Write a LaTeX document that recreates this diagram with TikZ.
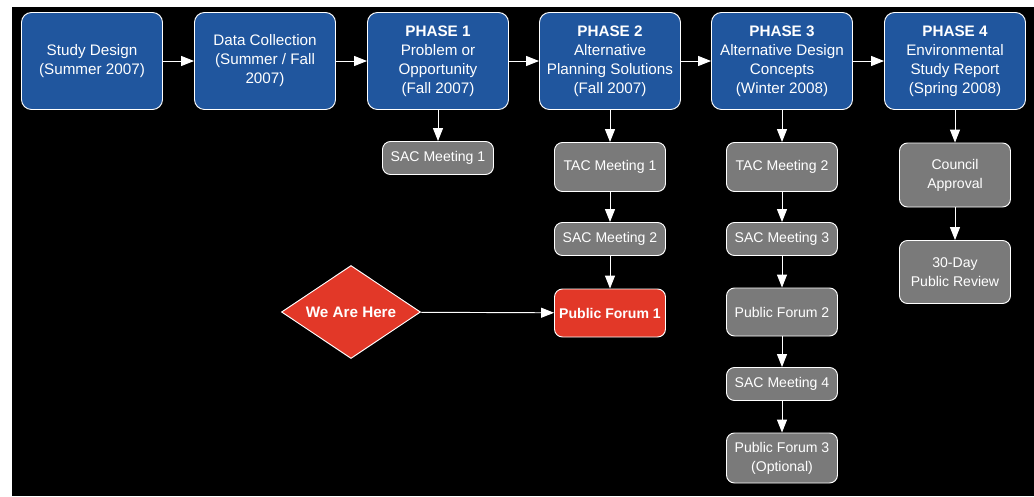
\documentclass[tikz,border=0pt]{standalone}
\usepackage{fontspec}
\setmainfont{Liberation Sans}
\usetikzlibrary{shapes.geometric,arrows.meta}
\definecolor{phaseblue}{RGB}{32,86,158}
\definecolor{meetgray}{RGB}{122,122,122}
\definecolor{herered}{RGB}{226,56,40}
\begin{document}
\begin{tikzpicture}[
  phase/.style={draw=white, line width=0.8pt, fill=phaseblue, rounded corners=0.3cm,
    minimum width=4.23cm, minimum height=2.91cm, inner sep=0pt, align=center,
    text=white, font=\fontsize{13}{16.2}\selectfont},
  meet/.style={draw=white, line width=0.8pt, fill=meetgray, rounded corners=0.24cm,
    minimum width=3.33cm, inner sep=0pt, align=center,
    text=white, font=\fontsize{12}{16.2}\selectfont},
  flow/.style={draw=white, line width=0.8pt, -{Triangle[length=11pt,width=8.5pt]}}
]
\fill[white] (0,0) rectangle (31.02,-14.88);
\fill[black] (0.36,-0.21) rectangle (31.02,-14.88);
% top row
\node[phase] (design) at (2.76,-1.83)  {Study Design\\(Summer 2007)};
\node[phase] (data)   at (7.95,-1.83)  {Data Collection\\(Summer / Fall\\2007)};
\node[phase] (ph1)    at (13.14,-1.83) {\textbf{PHASE 1}\\Problem or\\Opportunity\\(Fall 2007)};
\node[phase] (ph2)    at (18.30,-1.83) {\textbf{PHASE 2}\\Alternative\\Planning Solutions\\(Fall 2007)};
\node[phase] (ph3)    at (23.46,-1.83) {\textbf{PHASE 3}\\Alternative Design\\Concepts\\(Winter 2008)};
\node[phase] (ph4)    at (28.65,-1.83) {\textbf{PHASE 4}\\Environmental\\Study Report\\(Spring 2008)};
% phase 1
\node[meet, minimum height=0.99cm] (sac1) at (13.14,-4.74) {SAC Meeting 1};
% phase 2
\node[meet, minimum height=1.47cm] (tac1) at (18.30,-5.01) {TAC Meeting 1};
\node[meet, minimum height=0.99cm] (sac2) at (18.30,-7.17) {SAC Meeting 2};
\node[meet, minimum height=1.44cm, fill=herered] (pf1) at (18.30,-9.39) {\textbf{Public Forum 1}};
% phase 3
\node[meet, minimum height=1.47cm] (tac2) at (23.46,-5.01) {TAC Meeting 2};
\node[meet, minimum height=0.99cm] (sac3) at (23.46,-7.17) {SAC Meeting 3};
\node[meet, minimum height=1.44cm] (pf2)  at (23.46,-9.36) {Public Forum 2};
\node[meet, minimum height=0.99cm] (sac4) at (23.46,-11.52) {SAC Meeting 4};
\node[meet, minimum height=1.50cm] (pf3)  at (23.46,-13.74) {Public Forum 3\\(Optional)};
% phase 4
\node[meet, minimum height=1.92cm] (council) at (28.65,-5.25) {Council\\Approval};
\node[meet, minimum height=1.89cm] (review)  at (28.65,-8.16) {30-Day\\Public Review};
% marker
\node[diamond, aspect=1.5, draw=white, line width=0.8pt, fill=herered, minimum width=4.17cm,
  minimum height=2.79cm, inner sep=0pt, text=white,
  font=\fontsize{13}{16.2}\selectfont\bfseries] (here) at (10.53,-9.36) {We Are Here};
\draw[flow] (design) -- (data);
\draw[flow] (data) -- (ph1);
\draw[flow] (ph1) -- (ph2);
\draw[flow] (ph2) -- (ph3);
\draw[flow] (ph3) -- (ph4);
\draw[flow] (ph1) -- (sac1);
\draw[flow] (ph2) -- (tac1);
\draw[flow] (tac1) -- (sac2);
\draw[flow] (sac2) -- (pf1);
\draw[flow] (ph3) -- (tac2);
\draw[flow] (tac2) -- (sac3);
\draw[flow] (sac3) -- (pf2);
\draw[flow] (pf2) -- (sac4);
\draw[flow] (sac4) -- (pf3);
\draw[flow] (ph4) -- (council);
\draw[flow] (council) -- (review);
\draw[flow] (here) -- (pf1);
\end{tikzpicture}
\end{document}
